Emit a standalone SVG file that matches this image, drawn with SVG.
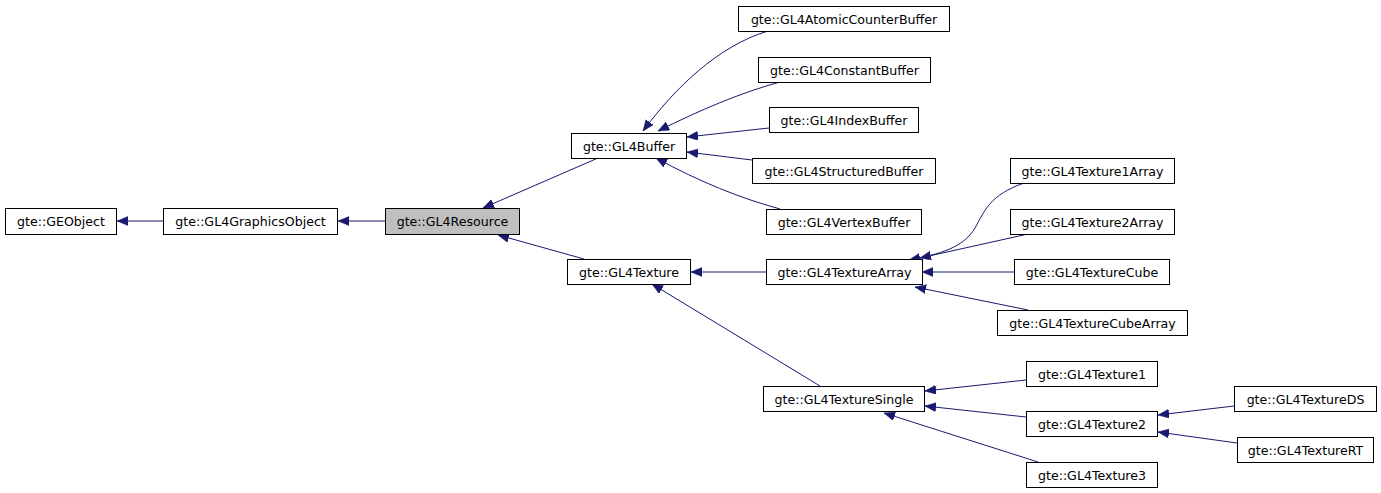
<svg xmlns="http://www.w3.org/2000/svg" width="1381" height="493" viewBox="0 0 1381 493">
<style>
.n rect{fill:#ffffff;stroke:#000000;stroke-width:1}
.n.g rect{fill:#bfbfbf}
.n text{font-family:"DejaVu Sans",sans-serif;font-size:12.6px;fill:#000000;text-anchor:middle}
.e path{fill:none;stroke:#191970;stroke-width:1;marker-end:url(#ah)}
</style>
<defs>
<marker id="ah" markerUnits="userSpaceOnUse" markerWidth="12" markerHeight="10" refX="11" refY="4.5" orient="auto" viewBox="0 0 12 10">
<path d="M0,0 L11,4.5 L0,9 z" fill="#191970" stroke="#191970" stroke-width="0.5"/>
</marker>
</defs>
<rect width="1381" height="493" fill="#ffffff"/>
<g id="edges" class="e">
<path d="M163,221 L117,221"/>
<path d="M385,221 L338,221"/>
<path d="M598,158 L483,208"/>
<path d="M584,259 L498,235"/>
<path d="M768,31 C718,46 675,88 643,131"/>
<path d="M780,82 C740,93 700,110 658,131"/>
<path d="M769,128 L687,137"/>
<path d="M752,160 L687,152"/>
<path d="M780,209 C740,198 700,182 656,158"/>
<path d="M766,272 L691,272"/>
<path d="M820,386 L652,284"/>
<path d="M1024,183 C990,195 985,210 975,228 C963,248 940,254 909,260"/>
<path d="M1028,234 L920,258"/>
<path d="M1014,272 L922,272"/>
<path d="M1028,310 L915,287"/>
<path d="M1026,380 L925,391"/>
<path d="M1026,417 L925,406"/>
<path d="M1038,462 L884,413"/>
<path d="M1234,406 L1158,415"/>
<path d="M1237,443 L1158,432"/>
</g>
<g id="GEObject" class="n"><rect x="5.5" y="208.5" width="111" height="26"/><text x="61" y="226">gte::GEObject</text></g>
<g id="GL4GraphicsObject" class="n"><rect x="163.5" y="208.5" width="174" height="26"/><text x="250.5" y="226">gte::GL4GraphicsObject</text></g>
<g id="GL4Resource" class="n g"><rect x="385.5" y="208.5" width="134" height="26"/><text x="452.5" y="226">gte::GL4Resource</text></g>
<g id="GL4Buffer" class="n"><rect x="571.5" y="133.5" width="115" height="25"/><text x="629" y="150.5">gte::GL4Buffer</text></g>
<g id="GL4AtomicCounterBuffer" class="n"><rect x="738.5" y="6.5" width="211" height="25"/><text x="844" y="23.5">gte::GL4AtomicCounterBuffer</text></g>
<g id="GL4ConstantBuffer" class="n"><rect x="758.5" y="57.5" width="172" height="25"/><text x="844.5" y="74.5">gte::GL4ConstantBuffer</text></g>
<g id="GL4IndexBuffer" class="n"><rect x="769.5" y="107.5" width="149" height="25"/><text x="844" y="124.5">gte::GL4IndexBuffer</text></g>
<g id="GL4StructuredBuffer" class="n"><rect x="752.5" y="158.5" width="183" height="25"/><text x="844" y="175.5">gte::GL4StructuredBuffer</text></g>
<g id="GL4VertexBuffer" class="n"><rect x="766.5" y="209.5" width="155" height="25"/><text x="844" y="226.5">gte::GL4VertexBuffer</text></g>
<g id="GL4Texture" class="n"><rect x="567.5" y="259.5" width="123" height="25"/><text x="629" y="276.5">gte::GL4Texture</text></g>
<g id="GL4TextureArray" class="n"><rect x="766.5" y="259.5" width="156" height="25"/><text x="844.5" y="276.5">gte::GL4TextureArray</text></g>
<g id="GL4TextureSingle" class="n"><rect x="763.5" y="386.5" width="161" height="25"/><text x="844" y="403.5">gte::GL4TextureSingle</text></g>
<g id="GL4Texture1Array" class="n"><rect x="1010.5" y="158.5" width="164" height="25"/><text x="1092.5" y="175.5">gte::GL4Texture1Array</text></g>
<g id="GL4Texture2Array" class="n"><rect x="1010.5" y="209.5" width="164" height="25"/><text x="1092.5" y="226.5">gte::GL4Texture2Array</text></g>
<g id="GL4TextureCube" class="n"><rect x="1014.5" y="259.5" width="155" height="25"/><text x="1092" y="276.5">gte::GL4TextureCube</text></g>
<g id="GL4TextureCubeArray" class="n"><rect x="997.5" y="310.5" width="190" height="25"/><text x="1092.5" y="327.5">gte::GL4TextureCubeArray</text></g>
<g id="GL4Texture1" class="n"><rect x="1026.5" y="361.5" width="131" height="25"/><text x="1092" y="378.5">gte::GL4Texture1</text></g>
<g id="GL4Texture2" class="n"><rect x="1026.5" y="411.5" width="131" height="25"/><text x="1092" y="428.5">gte::GL4Texture2</text></g>
<g id="GL4Texture3" class="n"><rect x="1026.5" y="462.5" width="131" height="25"/><text x="1092" y="479.5">gte::GL4Texture3</text></g>
<g id="GL4TextureDS" class="n"><rect x="1234.5" y="386.5" width="142" height="25"/><text x="1305.5" y="403.5">gte::GL4TextureDS</text></g>
<g id="GL4TextureRT" class="n"><rect x="1237.5" y="437.5" width="136" height="25"/><text x="1305.5" y="454.5">gte::GL4TextureRT</text></g>
</svg>
